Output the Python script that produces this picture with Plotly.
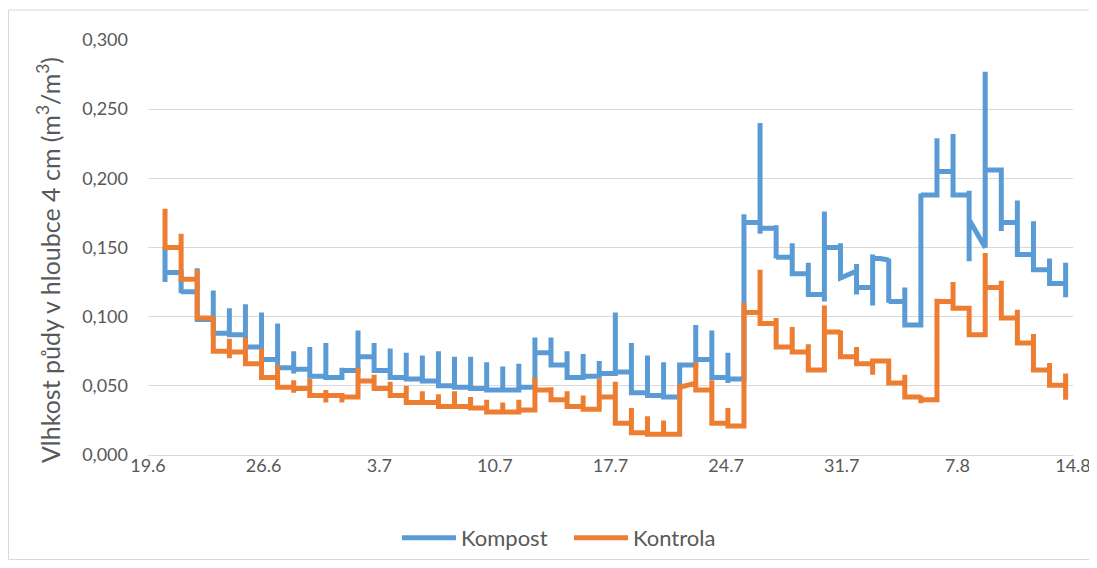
import plotly.graph_objects as go
import pandas as pd

# Measurement times of the daily readings (regular sampling)
times = pd.date_range("2021-06-20 00:45", periods=57, freq="1402min")

# Kompost (blue): spike top, spike bottom (None = no dip), level after reading, level at end of interval (None = flat)
kompost_top = [0.150, 0.134, 0.135, 0.119, 0.106, 0.109, 0.103, 0.095, 0.075, 0.078,
               0.081, 0.063, 0.090, 0.081, 0.077, 0.074, 0.072, 0.075, 0.071, 0.071,
               0.067, 0.064, 0.066, 0.085, 0.085, 0.075, 0.073, 0.068, 0.103, 0.081,
               0.072, 0.067, 0.065, 0.094, 0.090, 0.074, 0.174, 0.240, 0.166, 0.153,
               0.139, 0.176, 0.153, 0.138, 0.145, 0.142, 0.121, 0.189, 0.229, 0.232,
               0.191, 0.277, 0.206, 0.184, 0.169, 0.142, 0.139]
kompost_bottom = [0.125, 0.117, None, None, None, None, None, None, 0.059, None,
                  None, 0.056, None, None, None, None, None, None, None, None,
                  None, None, None, None, None, None, None, None, None, None,
                  None, None, None, None, None, 0.052, None, 0.160, 0.142, None,
                  None, 0.111, None, 0.116, 0.108, 0.110, None, None, None, None,
                  0.140, 0.150, 0.162, None, None, None, 0.114]
kompost_level = [0.132, 0.118, 0.098, 0.088, 0.087, 0.078, 0.069, 0.063, 0.062, 0.057,
                 0.056, 0.061, 0.071, 0.061, 0.056, 0.055, 0.0535, 0.050, 0.049, 0.048,
                 0.047, 0.047, 0.049, 0.074, 0.065, 0.056, 0.057, 0.059, 0.060, 0.045,
                 0.043, 0.042, 0.065, 0.069, 0.056, 0.055, 0.168, 0.164, 0.143, 0.131,
                 0.116, 0.150, 0.128, 0.121, 0.143, 0.111, 0.094, 0.188, 0.205, 0.188,
                 0.170, 0.206, 0.168, 0.145, 0.134, 0.124, None]
kompost_end = [None] * 57
kompost_end[42] = 0.133
kompost_end[44] = 0.141
kompost_end[50] = 0.150

# Kontrola (orange)
kontrola_top = [0.178, 0.160, 0.134, 0.100, 0.084, 0.085, 0.077, 0.065, 0.054, 0.055,
                0.047, 0.043, 0.063, 0.058, 0.053, 0.050, 0.046, 0.044, 0.046, 0.042,
                0.040, 0.038, 0.040, 0.056, 0.049, 0.046, 0.043, 0.055, 0.053, 0.034,
                0.028, 0.025, 0.049, 0.067, 0.054, 0.034, 0.110, 0.134, 0.099, 0.0925,
                0.080, 0.108, 0.090, 0.078, 0.068, 0.068, 0.058, 0.043, 0.113, 0.125,
                0.106, 0.146, 0.126, 0.105, 0.0875, 0.0665, 0.059]
kontrola_bottom = [0.150, None, None, None, 0.070, None, None, None, 0.045, None,
                   0.038, 0.038, None, None, None, None, None, None, None, None,
                   None, None, None, None, None, None, None, None, None, None,
                   None, None, None, None, None, None, None, None, None, None,
                   None, None, None, None, 0.058, None, None, 0.0375, None, None,
                   None, None, None, None, None, None, 0.040]
kontrola_level = [0.150, 0.127, 0.099, 0.075, 0.0745, 0.066, 0.056, 0.049, 0.048, 0.043,
                  0.043, 0.042, 0.0535, 0.048, 0.043, 0.038, 0.038, 0.035, 0.035, 0.034,
                  0.031, 0.031, 0.0325, 0.047, 0.040, 0.035, 0.033, 0.042, 0.023, 0.016,
                  0.015, 0.015, 0.049, 0.047, 0.023, 0.021, 0.103, 0.095, 0.078, 0.0745,
                  0.0615, 0.089, 0.071, 0.066, 0.068, 0.052, 0.042, 0.040, 0.111, 0.106,
                  0.087, 0.121, 0.099, 0.081, 0.0615, 0.0505, None]
kontrola_end = [None] * 57
kontrola_end[32] = 0.052

y_ticks = [0, 0.05, 0.10, 0.15, 0.20, 0.25, 0.30]


def build(top, bottom, level, end):
    xs, ys = [], []
    prev = None
    for i, t in enumerate(times):
        pts = []
        if prev is not None:
            pts.append(prev)
        pts.append(top[i])
        if bottom[i] is not None:
            pts.append(bottom[i])
        if level[i] is not None:
            pts.append(level[i])
        xs += [t] * len(pts)
        ys += pts
        prev = end[i] if end[i] is not None else level[i]
    return xs, ys


fig = go.Figure()
kx, ky = build(kompost_top, kompost_bottom, kompost_level, kompost_end)
ox, oy = build(kontrola_top, kontrola_bottom, kontrola_level, kontrola_end)
fig.add_trace(go.Scatter(x=kx, y=ky, mode="lines", name="Kompost",
                         line=dict(color="#5B9BD5", width=5, simplify=False)))
fig.add_trace(go.Scatter(x=ox, y=oy, mode="lines", name="Kontrola",
                         line=dict(color="#ED7D31", width=5, simplify=False)))

# figure sits inside the page's 8px body margin
W, H = 1089, 552
L, T, R, B = 140, 32, 1065, 447
pw, ph = R - L, B - T

font_family = "Lato, Open Sans, sans-serif"
fig.update_layout(
    width=W, height=H,
    margin=dict(l=L, r=W - R, t=T, b=H - B, autoexpand=False),
    paper_bgcolor="white", plot_bgcolor="white",
    separators=", ",
    font=dict(family=font_family, size=18, color="#595959"),
    showlegend=True,
    legend=dict(orientation="h", x=(389 - L) / pw, xanchor="left",
                y=(B - 530) / ph, yanchor="middle",
                itemwidth=54, entrywidth=103, font=dict(size=22, color="#595959")),
    xaxis=dict(type="date", range=["2021-06-19", "2021-08-14 00:00:30"],
               tick0="2021-06-19", dtick=7 * 86400000, tickformat="%-d.%-m",
               showgrid=False, showline=True, linecolor="#D9D9D9", linewidth=1,
               ticks="", zeroline=False, ticklabeloverflow="allow",
               ticklabelstandoff=-6,
               tickfont=dict(size=18, color="#595959")),
    yaxis=dict(range=[0, 0.3], tickvals=y_ticks, tickformat=".3f",
               showgrid=True, gridcolor="#D9D9D9", gridwidth=1,
               zeroline=False, showline=False, ticks="", ticklabelstandoff=19,
               tickfont=dict(size=18, color="#595959")),
    shapes=[dict(type="rect", xref="paper", yref="paper",
                 x0=(0.5 - L) / pw, x1=(1083.5 - L) / pw,
                 y0=(B - 551.5) / ph, y1=(B - 2) / ph,
                 line=dict(color="#D9D9D9", width=1), layer="below")],
    annotations=[dict(text="Vlhkost půdy v hloubce 4 cm (m<sup>3</sup>/m<sup>3</sup>)",
                      xref="paper", yref="paper", x=(41 - L) / pw, y=(B - 252) / ph,
                      textangle=-90, showarrow=False, xanchor="center", yanchor="middle",
                      font=dict(size=25, color="#595959"))],
)

fig.write_html("out.html")
